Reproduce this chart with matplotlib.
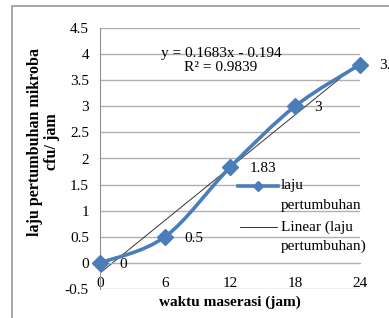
import matplotlib.pyplot as plt
from matplotlib.path import Path
from matplotlib.patches import PathPatch, Rectangle
from matplotlib.lines import Line2D

# data
waktu = [0, 6, 12, 18, 24]
laju = [0, 0.5, 1.83, 3, 3.8]
labels = ['0', '0.5', '1.83', '3', '3.8']
slope = 0.1683
intercept = -0.194

plt.rcParams['font.family'] = ['Liberation Serif', 'DejaVu Serif']
blue = '#4a7ebb'
trend = '#333333'

fig = plt.figure(figsize=(3.89, 3.18), dpi=100)
fig.patches.append(Rectangle((12 / 389, -0.1), 1.2, 1 - 6 / 318 + 0.1,
                             transform=fig.transFigure, fill=False,
                             edgecolor='#a6a6a6', linewidth=1.4))
ax = fig.add_axes([100 / 389, 1 - 289 / 318, 260 / 389, 261 / 318])

ax.set_xlim(0, 24)
ax.set_ylim(-0.5, 4.5)
ax.set_yticks([-0.5, 0, 0.5, 1, 1.5, 2, 2.5, 3, 3.5, 4, 4.5])
ax.set_yticklabels(['-0.5', '0', '0.5', '1', '1.5', '2', '2.5', '3', '3.5', '4', '4.5'])
ax.set_xticks(waktu)
ax.set_xticklabels([str(v) for v in waktu])
ax.grid(axis='y', color='#b0b0b0', linewidth=1)
ax.set_axisbelow(True)
for s in ['top', 'right']:
    ax.spines[s].set_visible(False)
ax.spines['left'].set_color('#909090')
ax.spines['bottom'].set_position(('data', 0))
ax.spines['bottom'].set_color('#b0b0b0')
ax.tick_params(length=0, labelsize=11)
ax.tick_params(axis='x', pad=10)
ax.tick_params(axis='y', pad=8)

# smoothed line (catmull-rom style bezier like excel)
pts = list(zip(waktu, laju))
verts = [pts[0]]
codes = [Path.MOVETO]
n = len(pts)
for i in range(n - 1):
    p0 = pts[max(i - 1, 0)]
    p1 = pts[i]
    p2 = pts[i + 1]
    p3 = pts[min(i + 2, n - 1)]
    c1 = (p1[0] + (p2[0] - p0[0]) / 6, p1[1] + (p2[1] - p0[1]) / 6)
    c2 = (p2[0] - (p3[0] - p1[0]) / 6, p2[1] - (p3[1] - p1[1]) / 6)
    verts += [c1, c2, p2]
    codes += [Path.CURVE4] * 3
ax.add_patch(PathPatch(Path(verts, codes), fill=False, edgecolor=blue,
                       linewidth=2.6, zorder=3, clip_on=False))
ax.plot(waktu, laju, linestyle='none', marker='D', markersize=8,
        color=blue, zorder=4, clip_on=False)

# trendline
ax.plot([0, 24], [intercept, slope * 24 + intercept], color=trend,
        linewidth=0.7, zorder=2)

for x, y, t in zip(waktu, laju, labels):
    ax.annotate(t, (x, y), xytext=(14, -1), textcoords='offset points',
                ha='left', va='center', fontsize=11, annotation_clip=False)

ax.text(0.465, 0.876, 'y = 0.1683x - 0.194\nR² = 0.9839', transform=ax.transAxes,
        ha='center', va='center', fontsize=11, linespacing=1.1)

# legend drawn by hand (Excel style wrapping)
fig.add_artist(Line2D([238 / 389, 278 / 389], [1 - 186 / 318] * 2, color=blue,
                      linewidth=2.6))
fig.add_artist(Line2D([258 / 389], [1 - 186 / 318], color=blue, marker='D',
                      markersize=5))
fig.add_artist(Line2D([240 / 389, 277 / 389], [1 - 227 / 318] * 2, color=trend,
                      linewidth=0.7))
for t, yy in [('laju', 186), ('pertumbuhan', 206), ('Linear (laju', 227),
              ('pertumbuhan)', 246)]:
    fig.text(281 / 389, 1 - yy / 318, t, ha='left', va='center', fontsize=11)

ax.set_xlabel('waktu maserasi (jam)', fontsize=11, fontweight='bold', labelpad=4)
fig.text(43.5 / 389, 1 - 142 / 318, 'laju pertumbuhan mikroba\ncfu/ jam',
         rotation=90, ha='center', va='center', fontsize=11.5,
         fontweight='bold', linespacing=1.1)

fig.savefig('out.png', dpi=100)
